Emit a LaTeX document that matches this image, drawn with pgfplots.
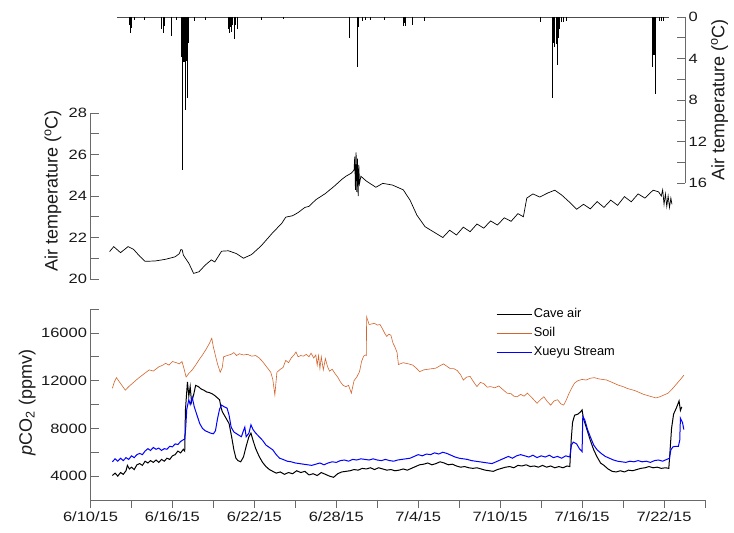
\documentclass[border=0pt]{standalone}
\usepackage{fontspec}
\setmainfont{Liberation Sans}[FakeStretch=1.22]
\newfontfamily\plainfont{Liberation Sans}
\usepackage{pgfplots}
\pgfplotsset{compat=1.18}
\definecolor{soilc}{RGB}{210,100,45}
\definecolor{axc}{RGB}{105,105,105}
\pgfplotsset{
  base/.style={scale only axis, anchor=south west, xmin=0, xmax=45,
    /pgf/number format/assume math mode=true,
    tick label style={font=\fontsize{13.5}{16}\selectfont, text=black!90},
    axis line style={axc, line width=0.7pt},
    tick style={axc, line width=0.7pt},
    major tick length=8pt,
    label style={font=\plainfont\fontsize{18}{21}\selectfont, text=black!90},
  }
}
\pgfplotstableread{
d T
1.4 21.32
1.7 21.56
2.2 21.27
2.75 21.56
3.15 21.43
3.6 21.1
4.0 20.85
4.75 20.87
5.5 20.95
6.2 21.07
6.5 21.22
6.62 21.42
6.72 21.4
6.8 21.15
7.2 20.76
7.55 20.27
7.95 20.35
8.4 20.67
8.85 20.92
9.1 20.82
9.6 21.34
10.1 21.36
10.7 21.22
11.2 21.0
11.8 21.18
12.5 21.6
13.3 22.2
14.0 22.68
14.3 22.98
14.8 23.05
15.2 23.2
15.7 23.45
16.0 23.5
16.5 23.82
17.2 24.12
17.9 24.5
18.4 24.8
18.7 24.95
19.1 25.1
19.3 25.25
19.35 25.9
19.4 24.3
19.45 26.1
19.5 24.2
19.55 25.8
19.6 24.0
19.65 25.5
19.7 24.6
19.8 24.95
20.2 24.72
20.9 24.42
21.4 24.61
22.1 24.53
22.9 24.3
23.4 23.8
23.9 23.08
24.5 22.52
25.1 22.28
25.8 22.0
26.3 22.35
26.8 22.12
27.3 22.5
27.8 22.28
28.3 22.65
28.8 22.45
29.3 22.8
29.8 22.6
30.3 22.95
30.8 22.78
31.3 23.15
31.7 23.0
31.95 23.9
32.4 24.1
32.9 23.95
33.5 24.15
34.0 24.28
34.5 24.05
35.0 23.75
35.6 23.36
36.1 23.6
36.6 23.38
37.1 23.73
37.6 23.45
38.1 23.8
38.6 23.55
39.1 23.97
39.6 23.72
40.1 24.1
40.6 23.9
41.2 24.28
41.6 24.2
41.8 24.0
41.9 24.3
42.0 23.6
42.1 24.1
42.2 23.5
42.3 24.0
42.4 23.45
42.5 23.9
42.58 23.6
}\temptab
\pgfplotstableread{
d R
2.85 0.8
2.9 1.5
2.95 1.1
3.0 0.5
3.2 0.3
3.9 0.3
5.2 1.2
5.3 1.5
5.4 0.9
5.9 1.8
6.3 0.3
6.67 3.9
6.69 4.2
6.70 14.7
6.72 4.0
6.74 4.3
6.76 3.8
6.78 4.1
6.80 4.3
6.82 3.9
6.84 4.2
6.86 4.0
6.88 4.3
6.90 3.9
6.91 9.0
6.93 4.1
6.95 4.3
6.97 3.8
6.99 4.0
7.01 4.2
7.03 3.9
7.05 4.1
7.08 7.8
7.10 3.5
7.13 2.5
7.15 1.5
7.6 0.4
8.4 0.3
10.1 1.2
10.15 1.5
10.2 1.0
10.3 1.4
10.4 0.8
10.5 1.5
10.55 2.1
10.6 0.8
10.7 1.2
12.5 0.3
14.1 0.2
18.95 2.05
19.55 4.8
19.6 1.0
19.85 0.4
20.1 0.3
20.5 0.3
21.5 0.3
22.9 0.9
22.95 0.6
23.05 0.9
23.55 0.8
24.4 0.4
32.9 0.5
33.77 7.84
33.85 2.5
33.9 2.86
33.95 2.3
34.05 2.6
34.15 4.6
34.2 2.0
34.3 1.2
34.45 0.5
34.6 0.5
34.8 0.4
41.1 4.8
41.15 3.7
41.2 3.5
41.25 3.66
41.29 7.42
41.35 1.5
41.6 0.4
41.75 0.4
41.9 0.4
}\raintab
\pgfplotstableread{
d P
1.6 11350
1.75 11900
1.9 12250
2.05 12000
2.3 11600
2.55 11200
2.8 11500
3.1 11800
3.5 12200
3.9 12550
4.3 12900
4.6 12800
5.0 13150
5.3 13300
5.5 13450
5.75 13300
6.0 13600
6.3 13500
6.5 13400
6.7 13600
6.85 13000
7.0 12300
7.2 12600
7.45 12900
7.7 13300
7.95 13750
8.2 14150
8.45 14600
8.7 15100
8.88 15550
9.0 14800
9.15 14100
9.3 13400
9.5 12700
9.65 13100
9.75 14000
10.0 14100
10.3 14200
10.5 14350
10.7 14100
10.9 14250
11.2 14150
11.5 14200
11.8 14050
12.1 14100
12.35 13900
12.6 13600
12.8 13300
13.0 13000
13.2 12700
13.35 12100
13.5 10800
13.65 12700
13.9 12950
14.1 13100
14.3 13700
14.5 13500
14.7 13900
14.9 14150
15.05 14400
15.2 14000
15.4 14100
15.6 14050
15.8 14200
16.0 14000
16.15 14300
16.35 13900
16.5 14150
16.6 13300
16.7 14100
16.8 13000
16.9 14000
17.05 12900
17.2 13850
17.35 13200
17.5 12800
17.7 12950
17.9 12600
18.1 12300
18.3 11900
18.5 11600
18.7 11500
18.9 11600
19.1 10950
19.3 12000
19.5 12300
19.7 12750
19.85 13600
20.0 14050
20.15 14150
20.2 14100
20.22 17350
20.4 16700
20.6 16750
20.8 16800
21.0 16650
21.2 16700
21.4 16300
21.55 15950
21.7 15700
21.85 15900
22.0 15800
22.15 15150
22.3 14800
22.45 14350
22.55 13350
22.9 13500
23.3 13400
23.6 13300
23.9 13000
24.1 12750
24.4 12900
24.7 12950
25.0 13000
25.3 13050
25.6 13250
25.85 13400
26.1 13200
26.35 13000
26.6 13000
26.85 12850
27.1 12500
27.3 12050
27.55 12300
27.8 12350
28.05 11900
28.3 11500
28.55 11850
28.8 11750
29.05 11450
29.3 11500
29.6 11400
29.9 11550
30.2 11250
30.5 10950
30.8 10900
31.0 10700
31.25 10650
31.5 10850
31.75 10700
32.0 10950
32.3 10600
32.7 10100
32.95 10400
33.2 10650
33.45 10250
33.7 9950
33.95 10300
34.2 10400
34.45 10050
34.65 9950
34.85 10400
35.05 10950
35.25 11400
35.45 11800
35.7 12000
36.0 12100
36.3 12050
36.6 12200
36.9 12250
37.2 12150
37.5 12100
37.8 12050
38.1 11900
38.4 11750
38.7 11600
39.0 11500
39.3 11350
39.6 11250
39.9 11150
40.2 11000
40.5 10850
40.8 10750
41.1 10650
41.4 10550
41.7 10650
42.0 10800
42.3 10950
42.6 11300
42.9 11700
43.2 12100
43.45 12450
}\soiltab
\pgfplotstableread{
d P
1.6 4050
1.8 4250
2.0 4000
2.2 4300
2.4 4150
2.6 4450
2.7 4900
2.85 4600
3.0 4750
3.2 4550
3.4 4950
3.6 5050
3.8 4900
4.0 5250
4.2 5100
4.4 5300
4.6 5150
4.8 5350
5.0 5150
5.2 5400
5.4 5250
5.6 5500
5.8 5400
6.0 5700
6.2 5800
6.4 6100
6.6 5950
6.8 6250
6.9 6100
6.95 9500
7.1 11900
7.2 10700
7.3 11500
7.4 10200
7.55 10800
7.7 11600
7.9 11500
8.1 11300
8.3 11200
8.5 11050
8.7 11000
8.9 10900
9.1 10750
9.3 10550
9.45 10400
9.55 9800
9.65 9400
9.9 8900
10.15 8400
10.35 7200
10.5 6200
10.65 5500
10.8 5300
11.0 5200
11.2 5600
11.4 6500
11.6 7300
11.75 7600
11.9 7000
12.1 6300
12.35 5650
12.6 5150
12.85 4800
13.1 4550
13.35 4400
13.6 4250
13.9 4350
14.2 4150
14.5 4300
14.8 4200
15.1 4450
15.4 4300
15.7 4400
16.0 4100
16.3 4200
16.6 4050
16.9 4300
17.2 4150
17.5 4000
17.8 3900
18.1 4200
18.4 4350
18.7 4400
19.0 4450
19.3 4550
19.6 4500
19.9 4650
20.2 4600
20.5 4700
20.8 4550
21.1 4700
21.4 4600
21.7 4500
22.0 4550
22.3 4450
22.6 4500
22.9 4600
23.2 4500
23.5 4650
23.8 4800
24.1 4950
24.4 5000
24.7 5100
25.0 4950
25.3 5050
25.6 5200
25.9 5100
26.2 4950
26.5 5000
26.8 4850
27.1 4750
27.4 4800
27.7 4700
28.0 4650
28.3 4700
28.6 4600
28.9 4500
29.2 4450
29.5 4400
29.8 4550
30.1 4650
30.4 4750
30.7 4800
31.0 4700
31.3 4900
31.6 4850
31.9 4950
32.2 4800
32.5 4850
32.8 4750
33.1 4900
33.4 4750
33.7 4850
34.0 4700
34.3 4800
34.6 4700
34.9 4850
35.1 4800
35.2 7000
35.3 8500
35.45 9100
35.7 9200
35.9 9400
36.0 9550
36.1 8800
36.3 8100
36.6 7000
36.85 6200
37.1 5600
37.35 5100
37.6 4900
37.9 4600
38.2 4400
38.5 4350
38.8 4450
39.1 4350
39.4 4500
39.7 4450
40.0 4550
40.3 4650
40.6 4700
40.9 4800
41.2 4700
41.5 4750
41.8 4650
42.1 4700
42.35 4650
42.45 6300
42.55 8000
42.7 9200
42.9 9700
43.1 10300
43.2 9500
43.3 9800
}\cavetab
\pgfplotstableread{
d P
1.6 5200
1.8 5450
2.0 5250
2.2 5500
2.4 5300
2.6 5550
2.8 5400
3.0 5700
3.2 5550
3.4 5800
3.6 5900
3.8 5800
4.0 6100
4.2 6300
4.4 6150
4.6 6400
4.8 6250
5.0 6350
5.2 6150
5.4 6300
5.6 6250
5.8 6500
6.0 6450
6.2 6700
6.4 6650
6.6 6900
6.8 7050
6.9 7100
6.97 8000
7.05 9600
7.2 10400
7.3 10000
7.45 10600
7.6 9800
7.8 9100
8.0 8400
8.2 8000
8.4 7800
8.6 7700
8.8 7600
9.0 7550
9.15 7800
9.3 8800
9.45 9600
9.6 9950
9.8 9800
10.0 9700
10.15 9100
10.3 8100
10.5 7700
10.7 7550
10.9 7400
11.05 7300
11.2 7800
11.3 8100
11.4 7300
11.6 7600
11.75 8300
11.9 7900
12.1 7600
12.35 7300
12.6 7000
12.85 6600
13.1 6400
13.35 6200
13.6 5800
13.85 5500
14.1 5400
14.4 5250
14.7 5200
15.0 5100
15.3 5050
15.6 5000
15.9 4950
16.2 4900
16.5 5000
16.8 5100
17.1 4950
17.4 5100
17.7 5200
18.0 5150
18.3 5300
18.6 5350
18.9 5250
19.2 5400
19.5 5350
19.8 5450
20.1 5400
20.4 5350
20.7 5450
21.0 5350
21.3 5300
21.6 5400
21.9 5300
22.2 5250
22.5 5350
22.8 5400
23.1 5450
23.4 5500
23.7 5650
24.0 5800
24.3 5700
24.6 5850
24.9 5800
25.2 5950
25.5 5850
25.8 6000
26.1 5900
26.4 5750
26.7 5600
27.0 5500
27.3 5450
27.6 5400
27.9 5300
28.2 5250
28.5 5200
28.8 5150
29.1 5100
29.4 5050
29.7 5200
30.0 5350
30.3 5500
30.6 5650
30.9 5500
31.2 5700
31.5 5800
31.8 5700
32.1 5600
32.4 5750
32.7 5550
33.0 5700
33.3 5600
33.6 5750
33.9 5550
34.2 5650
34.5 5500
34.8 5700
35.1 5600
35.22 6600
35.35 6850
35.6 6700
35.8 6300
36.0 6050
36.05 9000
36.2 8700
36.4 7900
36.6 7300
36.85 6600
37.1 6200
37.4 5900
37.7 5650
38.0 5500
38.3 5350
38.6 5250
38.9 5200
39.2 5150
39.5 5250
39.8 5200
40.1 5300
40.4 5200
40.7 5250
41.0 5150
41.3 5300
41.6 5350
41.9 5250
42.2 5400
42.4 5500
42.5 6200
42.65 6450
42.85 6500
43.05 6500
43.15 7000
43.2 8850
43.35 8500
43.45 7900
}\streamtab
\begin{document}
\begin{tikzpicture}
\useasboundingbox (0pt,0pt) rectangle (734pt,533pt);
% bottom panel: pCO2
\begin{axis}[base, at={(90.5pt,33pt)}, width=614.5pt, height=191pt,
  ymin=2000, ymax=18000,
  axis x line*=bottom, axis y line*=left,
  xtick align=outside, ytick align=inside,
  xtick={0,3,...,45},
  xticklabels={6/10/15,,6/16/15,,6/22/15,,6/28/15,,7/4/15,,7/10/15,,7/16/15,,7/22/15,,},
  ytick={2000,4000,...,18000},
  yticklabels={,4000,,8000,,12000,,16000,},
  scaled y ticks=false,
  ylabel={{\itshape p}CO\textsubscript{2} (ppmv)},
  ylabel style={at={(axis description cs:-0.103,0.51)}, anchor=center},
  legend cell align=left,
  legend image code/.code={\draw[#1, line width=0.6pt] (0pt,0pt) -- (35pt,0pt);},
  legend style={draw=none, fill=none, at={(axis description cs:0.655,1.025)}, anchor=north west,
    font=\plainfont\fontsize{12.8}{15}\selectfont, row sep=2.5pt,
    nodes={text height=9.5pt, text depth=3pt, inner sep=2pt}},
]
\addplot[black, line width=1.0pt] table[x=d,y=P] {\cavetab};
\addlegendentry{Cave air}
\addplot[soilc, line width=0.6pt] table[x=d,y=P] {\soiltab};
\addlegendentry{Soil}
\addplot[blue, line width=1.0pt] table[x=d,y=P] {\streamtab};
\addlegendentry{Xueyu Stream}
\end{axis}
% top panel: air temperature (left)
\begin{axis}[base, at={(90.5pt,254pt)}, width=614.5pt, height=166pt,
  ymin=20, ymax=28,
  axis x line=none, axis y line*=left, ytick align=inside,
  ytick={20,21,...,28}, yticklabels={20,,22,,24,,26,,28},
  ylabel={Air temperature (\textsuperscript{o}C)},
  ylabel style={at={(axis description cs:-0.061,0.53)}, anchor=center},
]
\addplot[black, line width=0.7pt] table[x=d,y=T] {\temptab};
\end{axis}
% top panel: right inverted axis
\begin{axis}[base, at={(90.5pt,350pt)}, width=594.6pt, height=166pt,
  xmax=43.5, ymin=0, ymax=16, y dir=reverse, clip=false,
  axis x line=none, axis y line*=right, ytick align=inside,
  ytick={0,2,...,16}, yticklabels={0,,4,,8,,12,,16},
  ylabel={Air temperature (\textsuperscript{o}C)},
  ylabel style={at={(axis description cs:1.058,0.5)}, anchor=center},
]
\addplot[black!70, line width=0.6pt] coordinates {(1.94,0) (42.3,0)};
\addplot[black, ycomb, line width=0.5pt] table[x=d,y=R] {\raintab};
\end{axis}
\end{tikzpicture}
\end{document}
